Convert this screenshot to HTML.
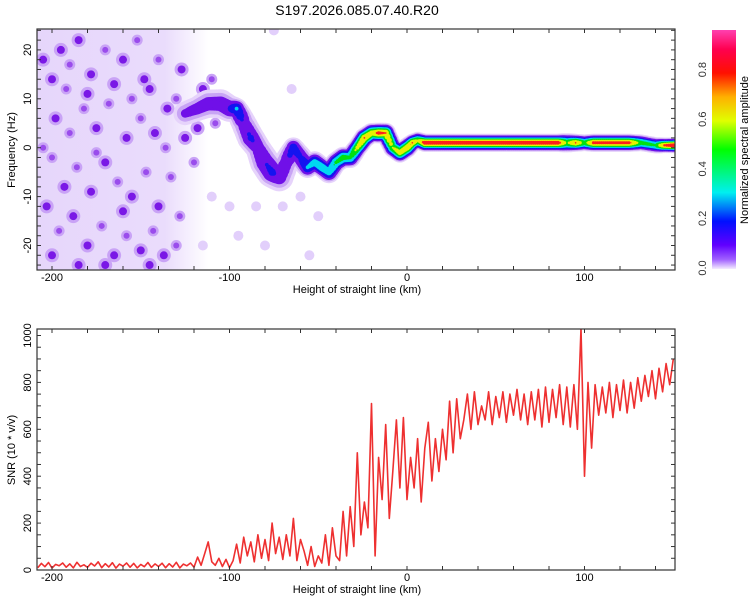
<!DOCTYPE html>
<html><head><meta charset="utf-8">
<style>
html,body{margin:0;padding:0;background:#fff;}
svg{display:block;font-family:"Liberation Sans",sans-serif;}
</style></head>
<body>
<svg id="chart" width="750" height="600" viewBox="0 0 750 600">
<defs>
<linearGradient id="cbar" x1="0" y1="1" x2="0" y2="0">
<stop offset="0" stop-color="#f4ecff"/><stop offset="0.04" stop-color="#a060ff"/><stop offset="0.1" stop-color="#6000ff"/>
<stop offset="0.2" stop-color="#0010ff"/><stop offset="0.32" stop-color="#00f0f0"/><stop offset="0.5" stop-color="#00ff00"/>
<stop offset="0.62" stop-color="#e0ff00"/><stop offset="0.72" stop-color="#ffb000"/><stop offset="0.82" stop-color="#ff1000"/>
<stop offset="0.92" stop-color="#ff0050"/><stop offset="1" stop-color="#ff40b0"/>
</linearGradient>
<linearGradient id="noiseFade" x1="0" y1="0" x2="1" y2="0">
<stop offset="0" stop-color="#e6d6fb"/><stop offset="0.75" stop-color="#eadcfc"/><stop offset="1" stop-color="#eadcfc" stop-opacity="0"/>
</linearGradient>
<clipPath id="clipTop"><rect x="37" y="29" width="638" height="241"/></clipPath>
<clipPath id="clipBot"><rect x="37" y="329" width="638" height="241"/></clipPath>
</defs>
<text x="357" y="15" font-size="14" text-anchor="middle">S197.2026.085.07.40.R20</text>
<g id="topPlot" clip-path="url(#clipTop)"></g>
<g id="botPlot" clip-path="url(#clipBot)"></g>
<g id="axes"></g>
<rect x="712" y="30" width="24" height="239" fill="url(#cbar)"/>
<g id="cbarAxis"></g>
<text transform="translate(748,150) rotate(-90)" font-size="11" text-anchor="middle">Normalized spectral amplitude</text>
<text transform="translate(15,150) rotate(-90)" font-size="11" text-anchor="middle">Frequency (Hz)</text>
<text transform="translate(15,450) rotate(-90)" font-size="11" text-anchor="middle">SNR (10 * v/v)</text>
<text x="357" y="293" font-size="11" text-anchor="middle">Height of straight line (km)</text>
<text x="357" y="593" font-size="11" text-anchor="middle">Height of straight line (km)</text>
</svg>
<script>
// ---- data ----
const xTicks = [-200, -100, 0, 100];
const topYTicks = [-20, -10, 0, 10, 20];
const botYTicks = [0, 200, 400, 600, 800, 1000];
const cbarTicks = [0.0, 0.2, 0.4, 0.6, 0.8];
// ridge: km, frequency (Hz), normalized amplitude
const ridgeKm  = [-125,-118,-112,-105,-100,-96,-92,-88,-84,-80,-76,-72,-68,-64,-60,-56,-52,-48,-44,-40,-36,-32,-28,-24,-20,-16,-12,-8,-4,0,3,6,10,30,50,70,85,90,95,100,105,125,132,140,145,150];
const ridgeHz  = [7,8,9,9,8,8,5,2,0,-3,-5,-6,-3,0,-2,-4,-3,-4,-5,-3,-2,-2,0,2,3,3,3,0,-1,0,1,1.5,1,1,1,1,1,1,1,1,1,1,1,0.5,0.5,0.5];
const ridgeAmp = [0.12,0.14,0.14,0.15,0.18,0.3,0.15,0.2,0.15,0.18,0.2,0.15,0.15,0.25,0.2,0.3,0.35,0.4,0.35,0.45,0.5,0.45,0.65,0.8,0.7,0.85,0.8,0.6,0.7,0.75,0.8,0.6,0.9,0.9,0.9,0.9,0.9,0.55,0.8,0.5,0.85,0.85,0.5,0.45,0.85,0.95];
const ridgeWidth = [7,7,8,8,7,5,7,7,7,8,8,8,7,5,6,5,5,4.5,5,4.5,4.5,4.5,4,4,4,4,4,4,4,4,3.5,3.5,3.5,3.5,3.5,3.5,3.5,4,3.5,3.5,3.5,3.5,3.5,3.5,3,3];
// noise speckles: km, Hz, strength (0 faint,1 medium,2 strong)
const noiseKm = [-200,-195,-190,-185,-178,-170,-165,-160,-152,-145,-140,-135,-130,-127,-198,-190,-182,-175,-168,-158,-150,-142,-136,-200,-193,-186,-178,-170,-163,-155,-147,-140,-133,-128,-203,-196,-188,-180,-172,-165,-158,-150,-143,-137,-130,-200,-185,-160,-175,-148,-120,-118,-115,-110,-108,-125,-205,-205,-170,-145,-155,-180,-192,-100,-95,-85,-80,-70,-60,-50,-115,-110,-75,-65,-55];
const noiseHz = [14,20,17,22,15,20,13,18,22,12,18,8,10,16,6,3,8,4,9,2,6,3,0,-2,-8,-4,-9,-3,-7,-10,-5,-12,-6,-14,-12,-17,-14,-20,-16,-22,-18,-21,-17,-22,-20,-22,-24,-13,-1,14,-3,4,12,14,5,2,18,0,-24,-24,10,11,12,-12,-18,-12,-20,-12,-10,-14,-20,-10,24,12,-22];
const noiseS  = [2,2,1,2,2,1,2,2,1,2,1,2,1,2,2,1,1,2,1,2,1,2,1,1,2,1,2,2,1,2,1,2,1,1,2,1,2,2,1,2,1,2,1,2,1,2,2,2,1,2,1,2,2,1,1,2,2,1,2,2,1,2,1,0,0,0,0,0,0,0,0,0,0,0,0];
// SNR series: starting km and step, values
const snrStartKm = -208;
const snrStepKm = 2;
const snrValues = [10,28,14,32,8,24,18,30,12,26,9,33,15,22,11,29,17,35,10,27,13,31,8,25,16,30,12,28,9,24,14,32,11,26,15,29,10,27,13,33,9,25,18,30,
12,55,20,70,120,35,
20,50,15,45,10,
40,110,30,140,60,120,35,150,50,130,40,200,70,140,45,150,60,220,40,130,
80,20,100,15,60,
30,150,20,180,60,
40,250,60,270,100,
500,150,290,180,
710,
60,480,300,620,220,420,640,350,650,
300,480,350,560,290,520,
630,380,560,420,600,
470,720,500,730,560,
640,750,600,760,620,
700,640,760,620,740,650,760,630,750,660,770,640,750,620,760,640,770,610,780,630,770,650,790,620,780,
610,790,600,1030,400,800,520,790,
660,780,670,800,650,790,680,810,670,800,690,820,
720,830,740,850,730,860,760,880,790,900];

// ---- scales ----
const NS = 'http://www.w3.org/2000/svg';
const xS = km => 407 + km * 1.775;
const yTop = hz => 147.7 - hz * 4.89;
const yBot = v => 570 - v * 0.2345;
const yCb = v => 268 - v * 248;
function mk(tag, attrs, parent){const e=document.createElementNS(NS,tag);for(const k in attrs)e.setAttribute(k,attrs[k]);parent.appendChild(e);return e;}

const topG = document.getElementById('topPlot');
const botG = document.getElementById('botPlot');
const axesG = document.getElementById('axes');

// noise background
const bg = mk('rect',{x:xS(-210),y:29,width:xS(-112)-xS(-210),height:241,fill:'url(#noiseFade)'},topG);



// noise speckles
for(let i=0;i<noiseKm.length;i++){
  const cx=xS(noiseKm[i]), cy=yTop(noiseHz[i]), s=noiseS[i];
  const g=mk('g',{},topG);
  
  
  if(s===0){mk('circle',{cx,cy,r:5,fill:'#e2cffb'},g);}
  else{
    mk('circle',{cx,cy,r:s===2?7:5.5,fill:'#c9a3f6'},g);
    mk('circle',{cx,cy,r:s===2?4:3,fill:s===2?'#7a18e6':'#9a4cec'},g);
  }
}

// ridge
const levels=[0.03,0.06,0.1,0.18,0.28,0.42,0.58,0.78];
const levelColors=['#e6d3fb','#c8a4f5','#7010e8','#1414f0','#00d8f0','#00e010','#e8f000','#ff1e1e'];
const ridgeG=mk('g',{},topG);


const samples=[];
for(let i=0;i<ridgeKm.length-1;i++){
  const x0=xS(ridgeKm[i]),x1=xS(ridgeKm[i+1]);
  const n=Math.max(1,Math.round((x1-x0)/2));
  for(let k=0;k<n;k++){const t=k/n;
    samples.push([x0+(x1-x0)*t,yTop(ridgeHz[i]+(ridgeHz[i+1]-ridgeHz[i])*t),ridgeAmp[i]+(ridgeAmp[i+1]-ridgeAmp[i])*t,ridgeWidth[i]+(ridgeWidth[i+1]-ridgeWidth[i])*t]);}
}
const lastI=ridgeKm.length-1;
samples.push([xS(ridgeKm[lastI]),yTop(ridgeHz[lastI]),ridgeAmp[lastI],ridgeWidth[lastI]]);
levels.forEach((L,li)=>{
  samples.forEach(s=>{
    if(s[2]>L){const r=s[3]*Math.sqrt(2*Math.log(s[2]/L));
      mk('circle',{cx:s[0].toFixed(1),cy:s[1].toFixed(1),r:r.toFixed(1),fill:levelColors[li]},ridgeG);}
  });
});

// SNR line
let pathD='';
snrValues.forEach((v,i)=>{const km=snrStartKm+i*snrStepKm;pathD+=(i?'L':'M')+xS(km).toFixed(1)+' '+yBot(v).toFixed(1);});
const snrLine=mk('path',{d:pathD,fill:'none',stroke:'#ee3030','stroke-width':1.6,'stroke-linejoin':'round'},botG);



// frames and ticks
function frame(y0,y1,name,yFn,yMinor,yLabels,labelY){
  const f=mk('rect',{x:37,y:y0,width:638,height:y1-y0,fill:'none',stroke:'#333','stroke-width':1.2},axesG);
  
  
  for(let km=-200;km<=140;km+=20){const x=xS(km);
    mk('line',{x1:x,x2:x,y1:y0,y2:y0+4,stroke:'#333'},axesG);
    mk('line',{x1:x,x2:x,y1:y1,y2:y1-4,stroke:'#333'},axesG);}
  yMinor.forEach(v=>{const y=yFn(v);
    mk('line',{x1:37,x2:41,y1:y,y2:y,stroke:'#333'},axesG);
    mk('line',{x1:675,x2:671,y1:y,y2:y,stroke:'#333'},axesG);});
  xTicks.forEach(km=>{const t=mk('text',{x:xS(km),y:labelY,'font-size':11,'text-anchor':'middle'},axesG);t.textContent=String(km);
    
    });
  yLabels.forEach(v=>{const t=mk('text',{transform:`translate(31,${yFn(v)}) rotate(-90)`,'font-size':11,'text-anchor':'middle'},axesG);t.textContent=String(v);
    
    });
}
const topMinor=[];for(let h=-24;h<=24;h+=2)topMinor.push(h);
const botMinor=[];for(let v=0;v<=1000;v+=50)botMinor.push(v);
frame(29,270,'top',yTop,topMinor,topYTicks,281);
frame(329,570,'bottom',yBot,botMinor,botYTicks,581);

// colorbar axis
const cbG=document.getElementById('cbarAxis');
cbarTicks.forEach(v=>{const y=yCb(v);
  const t=mk('text',{transform:`translate(706,${y}) rotate(-90)`,'font-size':11,'text-anchor':'middle',fill:'#333'},cbG);t.textContent=v.toFixed(1);
  
  });
</script>
</body></html>
